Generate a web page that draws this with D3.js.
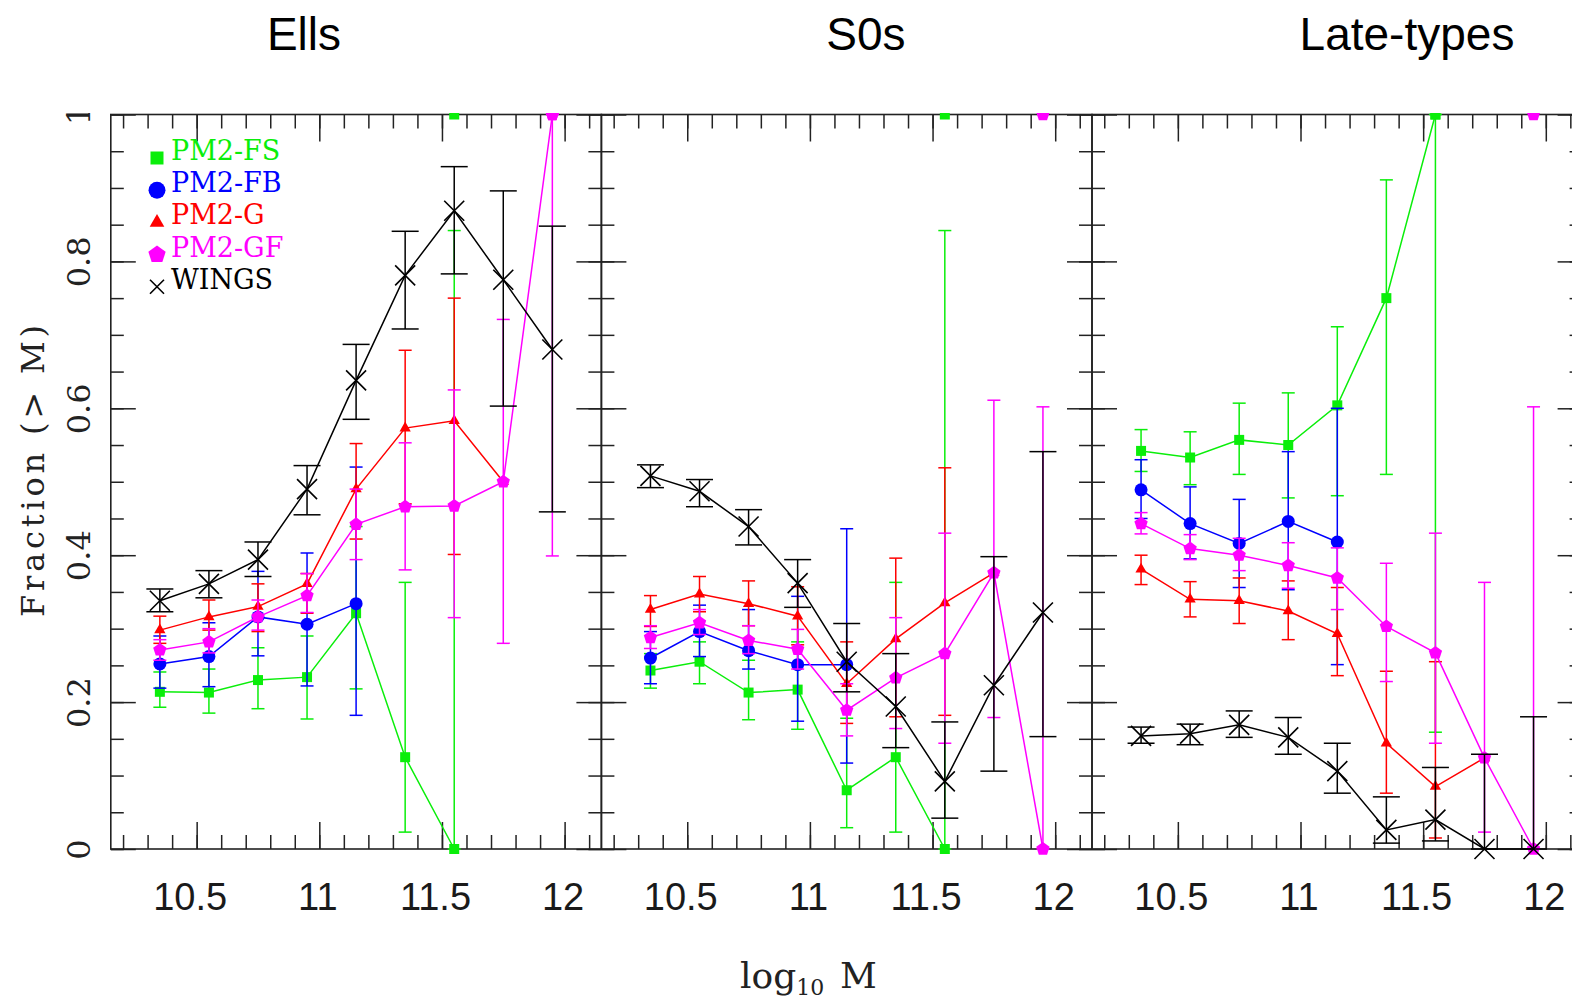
<!DOCTYPE html>
<html>
<head>
<meta charset="utf-8">
<script src="https://cdn.jsdelivr.net/npm/d3@7"></script>
<style>
  body { margin: 0; background: #fff; }
  svg { display: block; }
</style>
</head>
<body>
<script>
/*
*    fraction vs mass, three morphological panels
*/

// ---- data ----
var massBins = [10.35, 10.55, 10.75, 10.95, 11.15, 11.35, 11.55, 11.75, 11.95];
var panelTitles = ["Ells", "S0s", "Late-types"];
var seriesNames = ["PM2-FS", "PM2-FB", "PM2-G", "PM2-GF", "WINGS"];
var xTickLabels = [10.5, 11, 11.5, 12];
var yTickLabels = [0, 0.2, 0.4, 0.6, 0.8, 1];

// Ells
var fsEll     = [0.214, 0.213, 0.230, 0.234, 0.321, 0.125, 0.0];
var fsEllLo   = [0.193, 0.185, 0.191, 0.177, 0.218, 0.023, 0.0];
var fsEllHi   = [0.241, 0.245, 0.274, 0.290, 0.439, 0.363, 0.842];
var fbEll     = [0.252, 0.262, 0.316, 0.306, 0.334];
var fbEllLo   = [0.219, 0.221, 0.263, 0.222, 0.182];
var fbEllHi   = [0.290, 0.308, 0.378, 0.403, 0.520];
var gEll      = [0.298, 0.316, 0.330, 0.361, 0.490, 0.573, 0.583, 0.500];
var gEllLo    = [0.280, 0.298, 0.296, 0.321, 0.422, 0.470, 0.401, 0.500];
var gEllHi    = [0.317, 0.339, 0.361, 0.375, 0.552, 0.679, 0.750, 0.500];
var gfEll     = [0.271, 0.282, 0.316, 0.345, 0.442, 0.466, 0.467, 0.500, 1.0];
var gfEllLo   = [0.257, 0.267, 0.298, 0.322, 0.394, 0.380, 0.315, 0.280, 0.399];
var gfEllHi   = [0.285, 0.300, 0.339, 0.375, 0.490, 0.553, 0.625, 0.721, 1.0];
var wingsEll   = [0.338, 0.361, 0.394, 0.490, 0.638, 0.781, 0.869, 0.775, 0.680];
var wingsEllLo = [0.323, 0.342, 0.371, 0.455, 0.585, 0.708, 0.783, 0.603, 0.459];
var wingsEllHi = [0.354, 0.379, 0.418, 0.522, 0.687, 0.841, 0.929, 0.896, 0.848];

// S0s
var fsS0     = [0.243, 0.255, 0.213, 0.217, 0.080, 0.125, 0.0];
var fsS0Lo   = [0.219, 0.225, 0.176, 0.163, 0.029, 0.023, 0.0];
var fsS0Hi   = [0.266, 0.282, 0.257, 0.282, 0.178, 0.363, 0.842];
var fbS0     = [0.260, 0.296, 0.270, 0.251, 0.251];
var fbS0Lo   = [0.225, 0.262, 0.245, 0.174, 0.117];
var fbS0Hi   = [0.296, 0.332, 0.326, 0.344, 0.436];
var gS0      = [0.326, 0.347, 0.334, 0.317, 0.225, 0.286, 0.335, 0.376];
var gS0Lo    = [0.303, 0.323, 0.304, 0.278, 0.171, 0.180, 0.182, 0.376];
var gS0Hi    = [0.345, 0.371, 0.365, 0.357, 0.282, 0.396, 0.519, 0.376];
var gfS0     = [0.288, 0.308, 0.284, 0.272, 0.189, 0.233, 0.266, 0.376, 0.0];
var gfS0Lo   = [0.273, 0.292, 0.266, 0.245, 0.154, 0.164, 0.144, 0.179, 0.0];
var gfS0Hi   = [0.304, 0.326, 0.304, 0.299, 0.225, 0.315, 0.430, 0.611, 0.602];
var wingsS0   = [0.508, 0.487, 0.439, 0.362, 0.255, 0.194, 0.092, 0.223, 0.322];
var wingsS0Lo = [0.492, 0.466, 0.414, 0.329, 0.214, 0.138, 0.042, 0.106, 0.153];
var wingsS0Hi = [0.523, 0.503, 0.462, 0.394, 0.307, 0.266, 0.173, 0.398, 0.541];

// Late-types
var fsLate     = [0.542, 0.533, 0.557, 0.550, 0.604, 0.750, 1.0];
var fsLateLo   = [0.514, 0.496, 0.510, 0.478, 0.481, 0.510, 0.159];
var fsLateHi   = [0.571, 0.568, 0.607, 0.621, 0.711, 0.911, 1.0];
var fbLate     = [0.489, 0.443, 0.416, 0.446, 0.418];
var fbLateLo   = [0.450, 0.395, 0.356, 0.353, 0.251];
var fbLateHi   = [0.530, 0.493, 0.476, 0.541, 0.600];
var gLate      = [0.381, 0.340, 0.338, 0.324, 0.293, 0.144, 0.085, 0.124];
var gLateLo    = [0.360, 0.316, 0.307, 0.285, 0.236, 0.076, 0.015, 0.124];
var gLateHi    = [0.400, 0.364, 0.369, 0.365, 0.356, 0.242, 0.255, 0.124];
var gfLate     = [0.443, 0.409, 0.400, 0.386, 0.369, 0.303, 0.267, 0.124, 0.0];
var gfLateLo   = [0.429, 0.394, 0.379, 0.355, 0.326, 0.228, 0.144, 0.023, 0.0];
var gfLateHi   = [0.458, 0.428, 0.423, 0.417, 0.410, 0.389, 0.430, 0.363, 0.602];
var wingsLate   = [0.154, 0.157, 0.169, 0.152, 0.106, 0.026, 0.040, 0.0, 0.0];
var wingsLateLo = [0.144, 0.142, 0.152, 0.129, 0.076, 0.008, 0.011, 0.0, 0.0];
var wingsLateHi = [0.166, 0.170, 0.188, 0.179, 0.144, 0.071, 0.111, 0.129, 0.180];

// points sitting on the upper frame in every panel (series index, mass)
var topMarkSeries = [0, 3];
var topMarkMass = [11.55, 11.95];

var panelSeries = [
    [[fsEll, fsEllLo, fsEllHi], [fbEll, fbEllLo, fbEllHi], [gEll, gEllLo, gEllHi], [gfEll, gfEllLo, gfEllHi], [wingsEll, wingsEllLo, wingsEllHi]],
    [[fsS0, fsS0Lo, fsS0Hi], [fbS0, fbS0Lo, fbS0Hi], [gS0, gS0Lo, gS0Hi], [gfS0, gfS0Lo, gfS0Hi], [wingsS0, wingsS0Lo, wingsS0Hi]],
    [[fsLate, fsLateLo, fsLateHi], [fbLate, fbLateLo, fbLateHi], [gLate, gLateLo, gLateHi], [gfLate, gfLateLo, gfLateHi], [wingsLate, wingsLateLo, wingsLateHi]]
];

// ---- styling ----
var colors = ["#0aee0a", "#0000ff", "#ff0000", "#ff00ff", "#000000"];
var shapes = ["square", "circle", "triangle", "pentagon", "cross"];

var width = 1572;
var height = 1003;
var x0 = 110.8;
var panelW = 490.6;
var plotTop = 114.5;
var plotBottom = 849;

var svg = d3.select("body")
    .append("svg")
        .attr("width", width)
        .attr("height", height);

svg.append("defs").append("clipPath")
        .attr("id", "crop")
    .append("rect")
        .attr("x", 0)
        .attr("y", 113)
        .attr("width", width)
        .attr("height", height - 113);

var fig = svg.append("g").attr("clip-path", "url(#crop)");

var y = d3.scaleLinear().domain([0, 1]).range([plotBottom, plotTop]);

function markerPath(shape, big) {
    var k = big ? 1.3 : 1;
    if (shape == "square") return d3.symbol(d3.symbolSquare, 100 * k * k)();
    if (shape == "circle") return d3.symbol(d3.symbolCircle, 133 * k * k)();
    if (shape == "triangle") return d3.symbol(d3.symbolTriangle, 55 * k * k)();
    if (shape == "pentagon") {
        var r = 7 * k;
        var pts = d3.range(5).map((j) => {
            var a = -Math.PI / 2 + j * 2 * Math.PI / 5;
            return [r * Math.cos(a), r * Math.sin(a)];
        });
        return "M" + pts.join("L") + "Z";
    }
    var c = big ? 7 : 10;
    return "M" + (-c) + "," + (-c) + "L" + c + "," + c + "M" + (-c) + "," + c + "L" + c + "," + (-c);
}

function drawMarker(sel, s, big) {
    var shape = shapes[s];
    sel.append("path")
        .attr("d", markerPath(shape, big))
        .attr("fill", shape == "cross" ? "none" : colors[s])
        .attr("stroke", shape == "cross" ? colors[s] : "none")
        .attr("stroke-width", 1.6);
}

var minorX = d3.range(10.2, 12.15, 0.1).map((d) => Math.round(d * 10) / 10);
var minorY = d3.range(0, 1.001, 0.05).map((d) => Math.round(d * 100) / 100);

panelTitles.forEach((title, p) => {
    var left = x0 + p * panelW;
    var x = d3.scaleLinear().domain([10.15, 12.15]).range([left, left + panelW]);
    var g = fig.append("g").attr("class", "panel");

    // ticks on all four sides
    var axes = [
        [d3.axisBottom(x).tickValues(minorX).tickSize(-14), "translate(0," + plotBottom + ")"],
        [d3.axisBottom(x).tickValues(xTickLabels).tickSize(-27), "translate(0," + plotBottom + ")"],
        [d3.axisTop(x).tickValues(minorX).tickSize(-14), "translate(0," + plotTop + ")"],
        [d3.axisTop(x).tickValues(xTickLabels).tickSize(-27), "translate(0," + plotTop + ")"],
        [d3.axisLeft(y).tickValues(minorY).tickSize(-13), "translate(" + left + ",0)"],
        [d3.axisLeft(y).tickValues(yTickLabels).tickSize(-25), "translate(" + left + ",0)"],
        [d3.axisRight(y).tickValues(minorY).tickSize(-13), "translate(" + (left + panelW) + ",0)"],
        [d3.axisRight(y).tickValues(yTickLabels).tickSize(-25), "translate(" + (left + panelW) + ",0)"]
    ];
    axes.forEach((a) => {
        var ag = g.append("g").attr("transform", a[1]).call(a[0].tickFormat(""));
        ag.select(".domain").remove();
        ag.selectAll("line").attr("stroke", "#222").attr("stroke-width", 1.5);
    });

    // x tick labels
    var xl = g.append("g")
        .attr("transform", "translate(0," + plotBottom + ")")
        .call(d3.axisBottom(x).tickValues(xTickLabels).tickSize(0).tickPadding(34).tickFormat((d) => d));
    xl.select(".domain").remove();
    xl.selectAll("text")
        .attr("font-family", "'Liberation Sans', Arial, sans-serif")
        .attr("font-size", "38px")
        .attr("fill", "#1a1a1a")
        .attr("dx", (d) => (d % 1 ? -7 : -2));

    // y tick labels, only on the first panel
    if (p == 0) {
        var yl = g.append("g")
            .attr("transform", "translate(" + left + ",0)")
            .call(d3.axisLeft(y).tickValues(yTickLabels).tickSize(0).tickFormat((d) => d));
        yl.select(".domain").remove();
        yl.selectAll("text")
            .attr("x", null)
            .attr("dy", null)
            .attr("text-anchor", "middle")
            .attr("transform", "translate(-21,0) rotate(-90)")
            .attr("font-family", "'DejaVu Serif', serif")
            .attr("font-size", "32px")
            .attr("fill", "#222");
    }

    // frame
    g.append("rect")
        .attr("x", left)
        .attr("y", plotTop)
        .attr("width", panelW)
        .attr("height", plotBottom - plotTop)
        .attr("fill", "none")
        .attr("stroke", "#222")
        .attr("stroke-width", 1.6);

    // series
    var line = d3.line()
        .x((d, i) => x(massBins[i]))
        .y((d) => y(d));

    panelSeries[p].forEach((ser, s) => {
        var vals = ser[0], lo = ser[1], hi = ser[2];
        var capW = s == 4 ? 13.5 : 6.5;
        var sg = g.append("g").attr("class", "series");

        vals.forEach((v, i) => {
            if (hi[i] - lo[i] < 0.001) return;
            var cx = x(massBins[i]);
            sg.append("line")
                .attr("x1", cx).attr("x2", cx)
                .attr("y1", y(lo[i])).attr("y2", y(hi[i]))
                .attr("stroke", colors[s]).attr("stroke-width", 1.5);
            [lo[i], hi[i]].forEach((e) => {
                sg.append("line")
                    .attr("x1", cx - capW).attr("x2", cx + capW)
                    .attr("y1", y(e)).attr("y2", y(e))
                    .attr("stroke", colors[s]).attr("stroke-width", 1.5);
            });
        });

        sg.append("path")
            .attr("d", line(vals))
            .attr("fill", "none")
            .attr("stroke", colors[s])
            .attr("stroke-width", 1.5);

        vals.forEach((v, i) => {
            var mg = sg.append("g")
                .attr("transform", "translate(" + x(massBins[i]) + "," + y(v) + ")");
            drawMarker(mg, s, false);
        });
    });

    topMarkSeries.forEach((s, k) => {
        var mg = g.append("g")
            .attr("transform", "translate(" + x(topMarkMass[k]) + "," + y(1) + ")");
        drawMarker(mg, s, false);
    });
});

// legend
var legend = fig.append("g").attr("transform", "translate(157,160)");
seriesNames.forEach((name, s) => {
    var row = legend.append("g").attr("transform", "translate(0," + (s * 32.2) + ")");
    var mg = row.append("g").attr("transform", "translate(0,-2)");
    drawMarker(mg, s, true);
    row.append("text")
        .attr("x", 14)
        .attr("y", 0)
        .attr("font-family", "'DejaVu Serif', serif")
        .attr("font-size", "27px")
        .attr("fill", colors[s])
        .text(name);
});

// axis titles
fig.append("text")
    .attr("transform", "translate(44,471) rotate(-90)")
    .attr("text-anchor", "middle")
    .attr("font-family", "'DejaVu Serif', serif")
    .attr("font-size", "32px")
    .attr("textLength", 292)
    .attr("lengthAdjust", "spacing")
    .attr("fill", "#222")
    .text("Fraction (> M)");

var xt = fig.append("text")
    .attr("x", 740)
    .attr("y", 988)
    .attr("font-family", "'DejaVu Serif', serif")
    .attr("font-size", "36px")
    .attr("fill", "#222");
xt.append("tspan").text("log");
xt.append("tspan").attr("dy", 7).attr("font-size", "22px").text("10");
xt.append("tspan").attr("x", 840).attr("y", 988).text("M");

// panel titles
var titleX = [304, 866, 1407];
panelTitles.forEach((t, p) => {
    svg.append("text")
        .attr("x", titleX[p])
        .attr("y", 50)
        .attr("text-anchor", "middle")
        .attr("font-family", "'Liberation Sans', Arial, sans-serif")
        .attr("font-size", "46px")
        .attr("fill", "#000")
        .text(t);
});
</script>
</body>
</html>
